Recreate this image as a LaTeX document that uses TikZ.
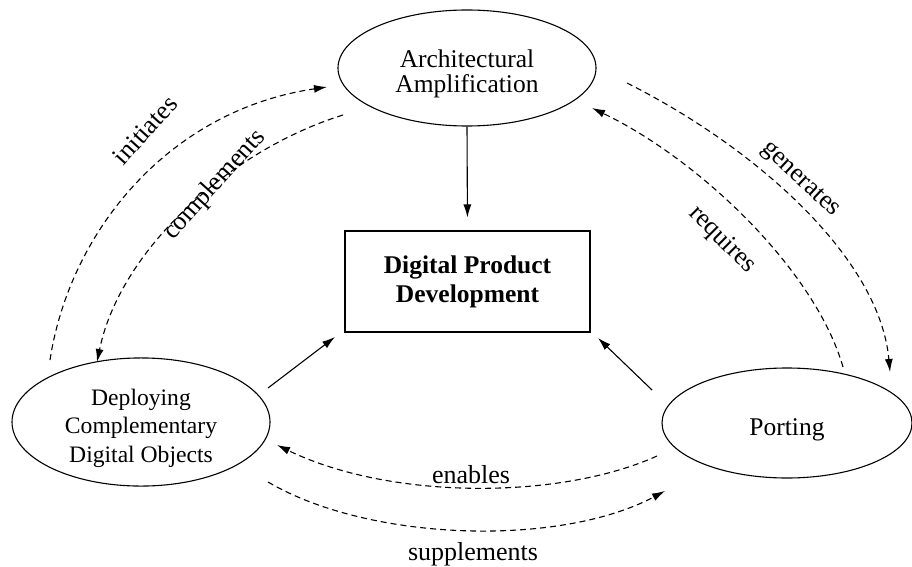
\documentclass[tikz,border=0pt]{standalone}
\usepackage{fontspec}
\setmainfont{Liberation Serif}
\usetikzlibrary{arrows.meta,shapes.geometric}
\newcommand{\topstrut}[1]{\rule{0pt}{#1}}
\begin{document}
\begin{tikzpicture}[x=1pt,y=1pt,
  ell/.style={draw, ellipse, line width=1.1pt, inner sep=0pt, align=center},
  dsh/.style={dash pattern=on 6pt off 4pt, line width=1.1pt, -{Latex[length=13pt,width=8pt]}},
  sol/.style={line width=1.1pt, -{Latex[length=13pt,width=8pt]}},
  lbl/.style={font=\fontsize{26}{28}\selectfont, inner sep=0pt}
]
\useasboundingbox (0,0) rectangle (912,566);
% nodes
\node[ell, minimum width=258pt, minimum height=116pt, font=\fontsize{25.5}{25}\selectfont] (T) at (467,498) {\topstrut{30pt}Architectural\\Amplification};
\node[ell, minimum width=258pt, minimum height=114pt, font=\fontsize{23.6}{28.5}\selectfont] (L) at (141,144) {\topstrut{28.5pt}Deploying\\Complementary\\Digital Objects};
\node[ell, minimum width=250pt, minimum height=110pt, font=\fontsize{25.5}{28}\selectfont] (R) at (787,143) {\topstrut{31pt}Porting};
\node[draw, line width=1.1pt, minimum width=245pt, minimum height=101pt, align=center, inner sep=0pt, font=\bfseries\fontsize{25.5}{29}\selectfont] (B) at (467.5,284.5) {Digital Product\\Development};
% endpoints of connectors
\coordinate (i1) at (50,206);   \coordinate (i2) at (327,479);
\coordinate (c1) at (343,451);  \coordinate (c2) at (97,204);
\coordinate (g1) at (627,483);  \coordinate (g2) at (890,194);
\coordinate (r1) at (843,199);  \coordinate (r2) at (592,458);
\coordinate (e1) at (657,110);  \coordinate (e2) at (277,121);
\coordinate (s1) at (268,84);   \coordinate (s2) at (665,75);
\coordinate (lb1) at (268,178); \coordinate (lb2) at (335,229);
\coordinate (rb1) at (652,176); \coordinate (rb2) at (598,228);
% solid arrows
\draw[sol, shorten >=13pt] (T.south) -- (B.north);
\draw[sol] (lb1) -- (lb2);
\draw[sol] (rb1) -- (rb2);
% dashed curves
\draw[dsh] (i1) .. controls (70,336) and (170,456) .. (i2);
\draw[dsh] (c1) .. controls (230,416) and (120,316) .. (c2);
\draw[dsh] (g1) .. controls (760,416) and (880,306) .. (g2);
\draw[dsh] (r1) .. controls (815,296) and (700,406) .. (r2);
\draw[dsh] (e1) .. controls (560,66) and (390,66) .. (e2);
\draw[dsh] (s1) .. controls (370,24) and (560,19) .. (s2);
% labels
\node[lbl, rotate=48] (li) at (145,436) {initiates};
\node[lbl, rotate=48] (lc) at (215,381) {complements};
\node[lbl, rotate=-43] (lg) at (800,386) {generates};
\node[lbl, rotate=-45] (lr) at (722,326) {requires};
\node[lbl] (le) at (471,91) {enables};
\node[lbl] (ls) at (473,12) {supplements};
\end{tikzpicture}
\end{document}
